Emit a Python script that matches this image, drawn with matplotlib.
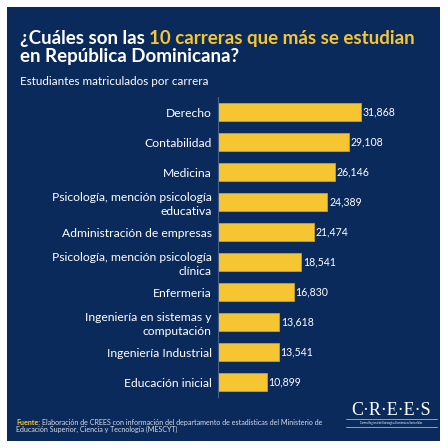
import matplotlib
matplotlib.use("Agg")
import matplotlib.pyplot as plt
from matplotlib.lines import Line2D

# data
carreras = ["Derecho", "Contabilidad", "Medicina",
            "Psicología, mención psicología\neducativa",
            "Administración de empresas",
            "Psicología, mención psicología\nclínica",
            "Enfermeria",
            "Ingeniería en sistemas y\ncomputación",
            "Ingeniería Industrial",
            "Educación inicial"]
estudiantes = [31868, 29108, 26146, 24389, 21474, 18541, 16830, 13618, 13541, 10899]

navy = "#0b2a5c"
yellow = "#f5c632"
W = H = 448.0

plt.rcParams['font.family'] = ['Lato', 'DejaVu Sans']

fig = plt.figure(figsize=(4.48, 4.48), dpi=100)
fig.patch.set_facecolor("white")

# navy panel
bg = fig.add_axes([7 / W, 1 - 441 / H, 433 / W, 434 / H], zorder=-1)
bg.set_facecolor(navy)
bg.set_xticks([])
bg.set_yticks([])
for s in bg.spines.values():
    s.set_visible(False)

# axes: left edge at x=218px, y from 97px to 397px
ax_l, ax_r = 218, 440
ax = fig.add_axes([ax_l / W, 1 - 397 / H, (ax_r - ax_l) / W, 300 / H])
ax.set_facecolor("none")
xmax = 31868 / 143.0 * (ax_r - ax_l)
ypos = list(range(len(carreras)))
ax.barh(ypos, estudiantes, height=0.6, color=yellow, edgecolor="#c9a02a", linewidth=0.6)
ax.set_xlim(0, xmax)
ax.set_ylim(len(carreras) - 0.5, -0.5)
for s in ["top", "right", "bottom"]:
    ax.spines[s].set_visible(False)
ax.spines["left"].set_color("#4a5f86")
ax.spines["left"].set_linewidth(0.8)
ax.set_xticks([])
ax.set_yticks(ypos)
ax.set_yticklabels(carreras, color="white", fontsize=8.7, linespacing=1.3)
ax.tick_params(axis="y", length=0, pad=4.5)

for y, v in zip(ypos, estudiantes):
    ax.annotate(f"{v:,}", (v, y), xytext=(1.2, 0), textcoords="offset points",
                va="center", ha="left", color="white", fontsize=7.6)

# title
fig.canvas.draw()
r = fig.canvas.get_renderer()
t1 = fig.text(20 / W, 1 - 44 / H, "¿Cuáles son las ", color="white",
              fontsize=13.5, fontweight="bold", va="baseline")
bb = t1.get_window_extent(renderer=r)
fig.text(bb.x1 / W, 1 - 44 / H, "10 carreras que más se estudian", color=yellow,
         fontsize=13.5, fontweight="bold", va="baseline")
fig.text(20 / W, 1 - 62 / H, "en República Dominicana?", color="white",
         fontsize=13.5, fontweight="bold", va="baseline")
fig.text(20 / W, 1 - 85 / H, "Estudiantes matriculados por carrera", color="white",
         fontsize=8.4, va="baseline")

# footer
f1 = fig.text(16 / W, 1 - 425 / H, "Fuente:", color=yellow, fontsize=5.1,
              fontweight="bold", va="baseline")
bb = f1.get_window_extent(renderer=r)
fig.text(bb.x1 / W + 1.5 / W, 1 - 425 / H,
         "Elaboración de CREES con información del departamento de estadísticas del Ministerio de",
         color="#d8dce6", fontsize=5.1, va="baseline")
fig.text(16 / W, 1 - 432 / H, "Educación Superior, Ciencia y Tecnología (MESCYT)",
         color="#d8dce6", fontsize=5.1, va="baseline")

# logo
fig.text(391 / W, 1 - 410 / H, "C·R·E·E·S", color="white", fontsize=13,
         family="Liberation Serif", ha="center", va="center")
for yl in (419, 427):
    fig.add_artist(Line2D([346 / W, 437 / W], [1 - yl / H, 1 - yl / H],
                          transform=fig.transFigure, color="#c8cfdc", lw=0.5))
fig.text(391 / W, 1 - 423 / H, "Centro Regional de Estrategias Económicas Sostenibles",
         color="white", fontsize=1.9, ha="center", va="center")

fig.savefig("out.png", dpi=100, facecolor=fig.get_facecolor())
